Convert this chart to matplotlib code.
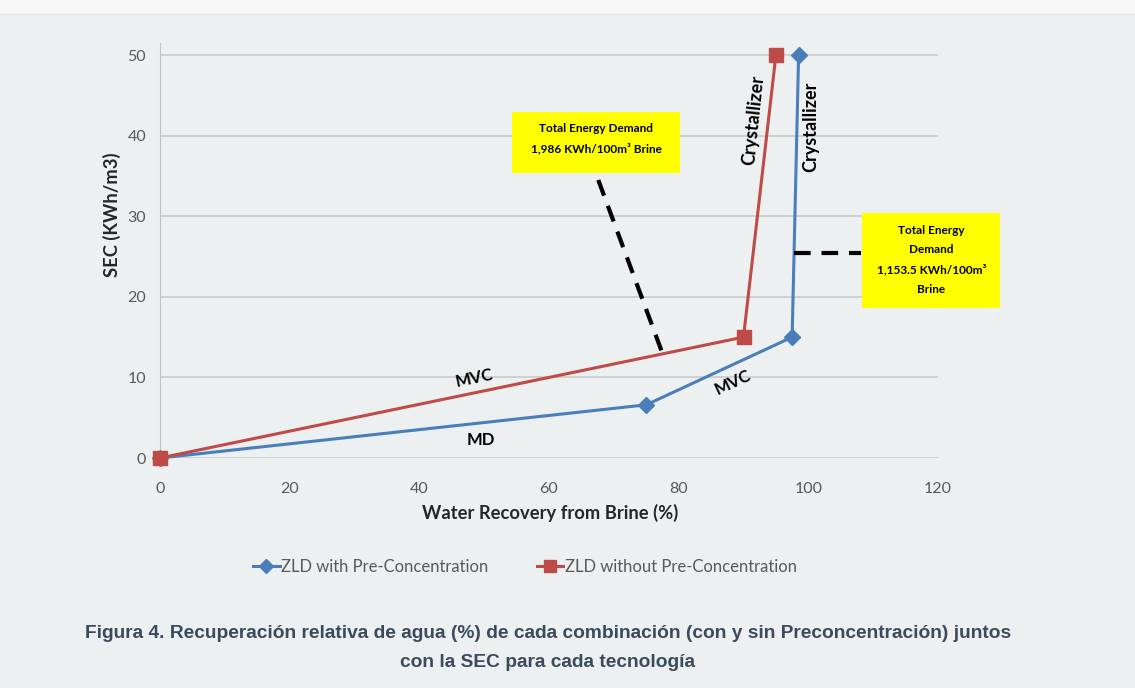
import matplotlib
matplotlib.use("Agg")
import matplotlib.pyplot as plt
from matplotlib.patches import Rectangle

# values
with_pre_x = [0, 75, 97.5, 98.5]
with_pre_y = [0, 6.6, 15, 50]
without_pre_x = [0, 90, 95]
without_pre_y = [0, 15, 50]
x_ticks = [0, 20, 40, 60, 80, 100, 120]
y_ticks = [0, 10, 20, 30, 40, 50]

blue = "#4a7ebb"
red = "#be4b48"
bg = "#edf0f1"

plt.rcParams["font.family"] = ["Lato", "DejaVu Sans"]

fig = plt.figure(figsize=(11.35, 6.88), dpi=100, facecolor=bg)
# light strip along the top of the page
fig.patches.append(Rectangle((0, 1 - 14 / 688), 1, 14 / 688, transform=fig.transFigure,
                             facecolor="#f8f8f8", edgecolor="none"))
fig.lines.append(plt.Line2D([0, 1], [1 - 14 / 688] * 2, transform=fig.transFigure,
                            color="#e2e4e6", lw=1))

ax = fig.add_axes([160 / 1135, 1 - 458 / 688, 778 / 1135, 415 / 688])
ax.set_facecolor(bg)
ax.set_xlim(0, 120)
ax.set_ylim(0, 51.5)
ax.set_xticks(x_ticks)
ax.set_yticks(y_ticks)
ax.grid(axis="y", color="#c8cacc", lw=1.2)
ax.set_axisbelow(True)
for s in ["top", "right", "bottom"]:
    ax.spines[s].set_visible(False)
ax.spines["left"].set_color("#bfc1c3")
ax.tick_params(length=0, labelsize=11.5, labelcolor="#595959")
ax.tick_params(axis="x", pad=17)
ax.tick_params(axis="y", pad=10)

ax.plot(with_pre_x, with_pre_y, color=blue, lw=2.2, marker="D", ms=8,
        label="ZLD with Pre-Concentration", clip_on=False, zorder=3)
ax.plot(without_pre_x, without_pre_y, color=red, lw=2.2, marker="s", ms=10,
        label="ZLD without Pre-Concentration", clip_on=False, zorder=3)

ax.set_xlabel("Water Recovery from Brine (%)", fontsize=13.2, fontweight="bold",
              color="#262626")
ax.set_ylabel("SEC (KWh/m3)", fontsize=13.2, fontweight="bold", color="#262626")
ax.xaxis.set_label_coords(0.502, -(513 - 458) / 415)
ax.yaxis.set_label_coords(-(160 - 112) / 778, (458 - 215) / 415)
ax.xaxis.label.set_va("center")
ax.yaxis.label.set_va("center")

# segment labels
ax.text(48.5, 9.9, "MVC", fontsize=12, fontweight="bold", rotation=12, ha="center", va="center")
ax.text(49.5, 2.2, "MD", fontsize=12, fontweight="bold", rotation=0, ha="center", va="center")
ax.text(88.4, 9.4, "MVC", fontsize=12, fontweight="bold", rotation=25, ha="center", va="center")
ax.text(91.5, 41.9, "Crystallizer", fontsize=13, fontweight="bold", rotation=84,
        ha="center", va="center")
ax.text(100.4, 41.1, "Crystallizer", fontsize=13, fontweight="bold", rotation=90,
        ha="center", va="center")

# dashed leaders
ax.plot([67.6, 77.4], [34.5, 13.2], color="black", lw=3, ls=(0, (4, 2.6)), zorder=4)
ax.plot([97.8, 108.2], [25.5, 25.5], color="black", lw=3, ls=(0, (4, 2.6)), zorder=4)

# yellow boxes
ax.add_patch(Rectangle((54.3, 35.4), 25.9, 7.5, facecolor="#ffff00", edgecolor="none",
                       clip_on=False, zorder=5))
ax.text(67.25, 39.6, "Total Energy Demand\n1,986 KWh/100m³ Brine", fontsize=8.5,
        fontweight="bold", ha="center", va="center", linespacing=1.9, zorder=6)
ax.add_patch(Rectangle((108.3, 18.6), 21.3, 11.8, facecolor="#ffff00", edgecolor="none",
                       clip_on=False, zorder=5))
ax.text(118.95, 24.6, "Total Energy\nDemand\n1,153.5 KWh/100m³\nBrine", fontsize=8.5,
        fontweight="bold", ha="center", va="center", linespacing=1.9, zorder=6, clip_on=False)

leg = fig.legend(loc="center", bbox_to_anchor=(525 / 1135, 1 - 567 / 688), ncol=2,
                 frameon=False, fontsize=12, columnspacing=2.9, handlelength=1.6,
                 handletextpad=0.1, markerscale=0.85)
for t in leg.get_texts():
    t.set_color("#595959")

fig.text(548 / 1135, 1 - 648 / 688,
         "Figura 4. Recuperación relativa de agua (%) de cada combinación (con y sin Preconcentración) juntos\ncon la SEC para cada tecnología",
         ha="center", va="center", fontsize=13.8, fontweight="bold", color="#3b4a5c",
         family=["Liberation Sans", "DejaVu Sans"], linespacing=1.9)

fig.savefig("out.png", dpi=100, facecolor=bg)
